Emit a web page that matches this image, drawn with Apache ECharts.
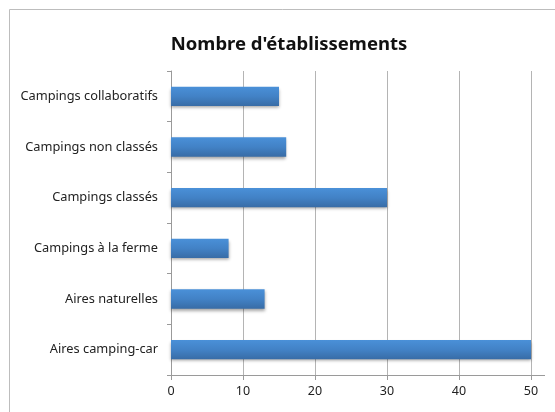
<!DOCTYPE html>
<html>
<head>
<meta charset="utf-8">
<script src="https://cdn.jsdelivr.net/npm/echarts@6/dist/echarts.min.js"></script>
<style>
  html, body { margin: 0; padding: 0; background: #fff; }
  #chart { width: 555px; height: 412px; }
</style>
</head>
<body>
<div id="chart"></div>
<script>
const categories = [
    'Campings collaboratifs',
    'Campings non classés',
    'Campings classés',
    'Campings à la ferme',
    'Aires naturelles',
    'Aires camping-car'
];
const etablissements = [15, 16, 30, 8, 13, 50];
const xTicks = { min: 0, max: 50, interval: 10 };

const chart = echarts.init(document.getElementById('chart'));

const option = {
    backgroundColor: '#fff',
    animation: false,
    title: {
        text: "Nombre d'établissements",
        left: 284,
        top: 30,
        textAlign: 'center',
        textStyle: { fontFamily: 'Noto Sans', fontWeight: 'bold', fontSize: 18.5, color: '#111' }
    },
    grid: { left: 171, right: 24, top: 71, bottom: 37 },
    xAxis: {
        type: 'value',
        min: xTicks.min, max: xTicks.max, interval: xTicks.interval,
        axisLine: { show: true, lineStyle: { color: '#9a9a9a', width: 1 } },
        axisTick: { show: true, length: 5, lineStyle: { color: '#9a9a9a' } },
        axisLabel: { margin: 10, color: '#222', fontFamily: 'Noto Sans', fontSize: 12.5 },
        splitLine: { show: true, lineStyle: { color: '#b4b4b4', width: 1 } }
    },
    yAxis: {
        type: 'category',
        data: categories,
        inverse: true,
        axisLine: { show: true, lineStyle: { color: '#9a9a9a', width: 1 } },
        axisTick: { show: true, length: 4, lineStyle: { color: '#9a9a9a' } },
        axisLabel: { margin: 13, color: '#222', fontFamily: 'Noto Sans', fontSize: 12.8 }
    },
    series: [{
        type: 'bar',
        data: etablissements,
        barCategoryGap: '62%',
        itemStyle: {
            color: new echarts.graphic.LinearGradient(0, 0, 0, 1, [
                { offset: 0, color: '#4a90d8' },
                { offset: 0.5, color: '#4282c6' },
                { offset: 1, color: '#386ca6' }
            ]),
            shadowColor: 'rgba(0,0,0,0.35)',
            shadowBlur: 3,
            shadowOffsetY: 2
        }
    }],
    graphic: [
        // outer chart frame (runs off the bottom/right edges)
        { type: 'rect', shape: { x: 9.5, y: 9.5, width: 700, height: 600 },
          style: { fill: null, stroke: '#bdbdbd', lineWidth: 1 } },
        // axis line overhang past the last tick
        { type: 'line', shape: { x1: 531, y1: 375.5, x2: 545, y2: 375.5 },
          style: { stroke: '#9a9a9a', lineWidth: 1 } }
    ]
};

chart.setOption(option);
</script>
</body>
</html>
